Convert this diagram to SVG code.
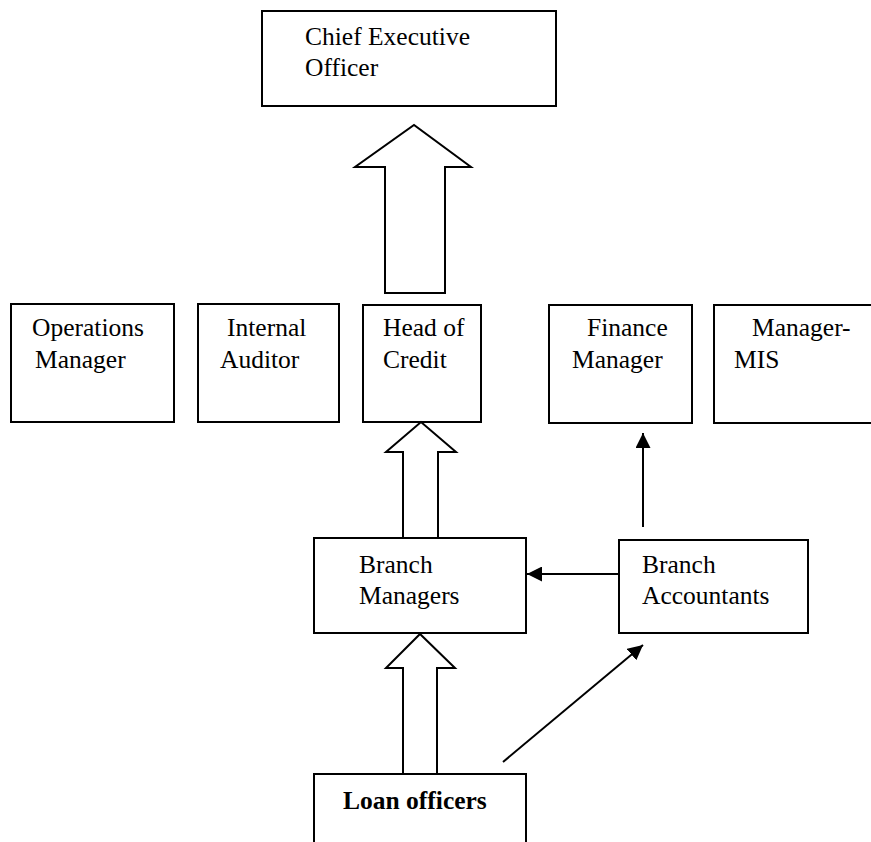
<svg xmlns="http://www.w3.org/2000/svg" width="871" height="842" viewBox="0 0 871 842">
  <style>
    .box { fill: #fff; stroke: #000; stroke-width: 2; }
    .lbl { font-family: "Liberation Serif", "Times New Roman", serif; font-size: 25.5px; fill: #000; }
    .bold { font-weight: bold; }
    .block { fill: #fff; stroke: #000; stroke-width: 2; stroke-linejoin: miter; }
    .line { fill: none; stroke: #000; stroke-width: 2; }
  </style>
  <defs>
    <marker id="tip" viewBox="0 0 10 10" refX="10" refY="5" markerWidth="15" markerHeight="15" markerUnits="userSpaceOnUse" orient="auto">
      <path d="M0,0 L10,5 L0,10 Z" fill="#000"/>
    </marker>
  </defs>
  <rect width="871" height="842" fill="#fff"/>

  <g id="ceo">
    <rect class="box" x="262" y="11" width="294" height="95"/>
    <text class="lbl" x="305" y="45">Chief Executive</text>
    <text class="lbl" x="305" y="76">Officer</text>
  </g>

  <g id="operations-manager">
    <rect class="box" x="11" y="304" width="163" height="118"/>
    <text class="lbl" x="32" y="336">Operations</text>
    <text class="lbl" x="35" y="368">Manager</text>
  </g>

  <g id="internal-auditor">
    <rect class="box" x="198" y="304" width="141" height="118"/>
    <text class="lbl" x="227" y="336">Internal</text>
    <text class="lbl" x="220" y="368">Auditor</text>
  </g>

  <g id="head-of-credit">
    <rect class="box" x="363" y="305" width="118" height="117"/>
    <text class="lbl" x="383" y="336">Head of</text>
    <text class="lbl" x="383" y="368">Credit</text>
  </g>

  <g id="finance-manager">
    <rect class="box" x="549" y="305" width="143" height="118"/>
    <text class="lbl" x="587" y="336">Finance</text>
    <text class="lbl" x="572" y="368">Manager</text>
  </g>

  <g id="manager-mis">
    <rect class="box" x="714" y="305" width="170" height="118"/>
    <text class="lbl" x="752" y="336">Manager-</text>
    <text class="lbl" x="734" y="368">MIS</text>
  </g>

  <g id="branch-managers">
    <rect class="box" x="314" y="538" width="212" height="95"/>
    <text class="lbl" x="359" y="573">Branch</text>
    <text class="lbl" x="359" y="604">Managers</text>
  </g>

  <g id="branch-accountants">
    <rect class="box" x="619" y="540" width="189" height="93"/>
    <text class="lbl" x="642" y="573">Branch</text>
    <text class="lbl" x="642" y="604">Accountants</text>
  </g>

  <g id="loan-officers">
    <rect class="box" x="314" y="774" width="212" height="90"/>
    <text class="lbl bold" x="343" y="809">Loan officers</text>
  </g>

  <g id="connectors">
    <!-- block arrow: head of credit up to CEO -->
    <path class="block" d="M385,293 L385,167 L355,167 L414,125 L471,167 L445,167 L445,293 Z"/>
    <!-- block arrow: branch managers up to head of credit -->
    <path class="block" d="M403,538 L403,452 L386,452 L421,422 L456,452 L438,452 L438,538 Z"/>
    <!-- block arrow: loan officers up to branch managers -->
    <path class="block" d="M403,774 L403,668 L386,668 L420,634 L455,668 L437,668 L437,774 Z"/>
    <!-- branch accountants up to finance manager -->
    <line class="line" x1="643" y1="527" x2="643" y2="433" marker-end="url(#tip)"/>
    <!-- branch accountants to branch managers -->
    <line class="line" x1="619" y1="574" x2="527" y2="574" marker-end="url(#tip)"/>
    <!-- loan officers to branch accountants -->
    <line class="line" x1="503" y1="762" x2="643" y2="645" marker-end="url(#tip)"/>
  </g>
</svg>
